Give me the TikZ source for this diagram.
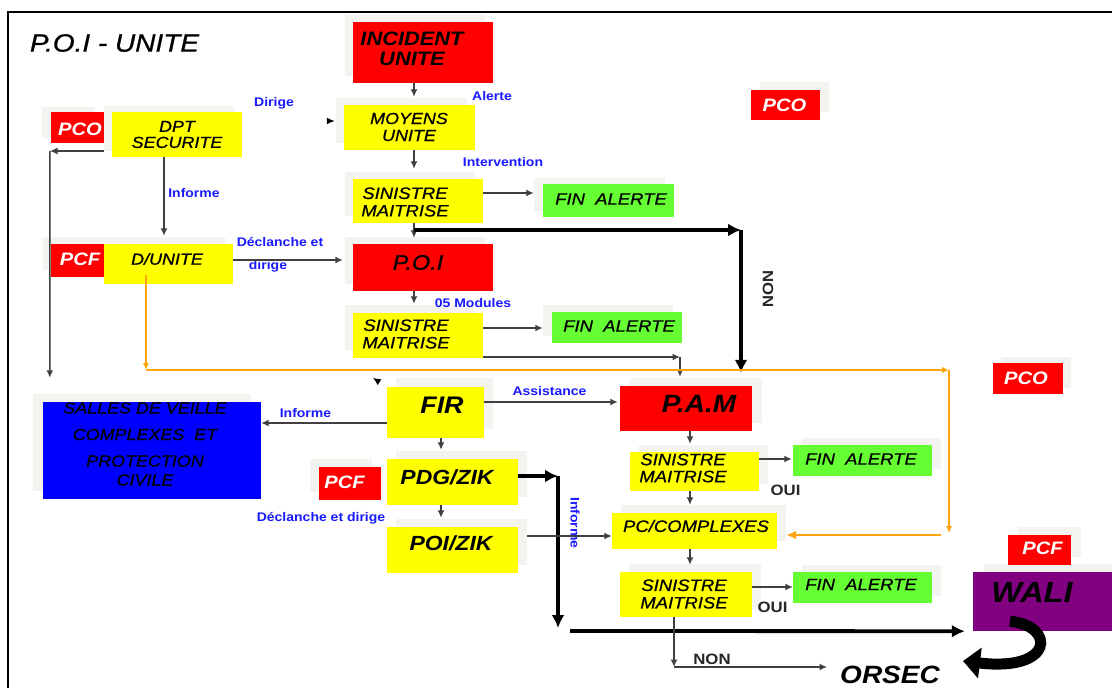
\documentclass[tikz,border=0pt]{standalone}
\usepackage{fontspec}
\setmainfont{Liberation Sans}[FakeStretch=1.12, ItalicFeatures={FakeBold=0.8}]
\usetikzlibrary{arrows.meta,backgrounds,calc}

\definecolor{boxred}{RGB}{255,0,0}
\definecolor{boxyellow}{RGB}{255,255,0}
\definecolor{boxgreen}{RGB}{102,255,51}
\definecolor{boxblue}{RGB}{0,0,255}
\definecolor{boxpurple}{RGB}{128,0,128}
\definecolor{labelblue}{RGB}{25,25,255}
\definecolor{wiregray}{RGB}{64,64,64}
\definecolor{wireorange}{RGB}{255,165,20}
\definecolor{platecol}{RGB}{244,243,239}

% font helpers: size, baselineskip
\newcommand\itf[2]{\fontsize{#1}{#2}\selectfont\itshape}
\newcommand\bif[2]{\fontsize{#1}{#2}\selectfont\bfseries\itshape}
% light plate behind a box, offset by (dx,dy)
\newcommand\backplate[3]{\fill[platecol] ([xshift=#2pt,yshift=#3pt]#1.south west) rectangle ([xshift=#2pt,yshift=#3pt]#1.north east);}

\tikzset{
  box/.style={rectangle, inner sep=0pt},
  ybox/.style={box, fill=boxyellow},
  rbox/.style={box, fill=boxred},
  gbox/.style={box, fill=boxgreen},
  txt/.style={inner sep=0pt, align=center, text=black},
  tag/.style={inner sep=0pt, align=center, text=white, font=\bif{18}{18}},
  lbl/.style={inner sep=0pt, align=center, text=labelblue, font=\fontsize{12.5}{13}\selectfont\bfseries},
  blk/.style={inner sep=0pt, text=black!85, font=\fontsize{15}{15}\selectfont\bfseries},
  wire/.style={draw=wiregray, line width=1.5pt, -{Latex[length=7.5pt,width=7pt]}},
  ghost/.style={draw=white, line width=1.3pt, -{Latex[length=8pt,width=7pt,color=black]}},
  heavy/.style={draw=black, line width=3.8pt, -{Latex[length=13pt,width=13pt]}},
  owire/.style={draw=wireorange, line width=1.4pt, -{Latex[length=7pt,width=6.5pt]}},
}

\begin{document}
\begin{tikzpicture}[x=1pt,y=-1pt]
\useasboundingbox (0,0) rectangle (1112,688);

% ---- title
\node[txt, font=\itf{25}{25}] (title) at (114.5,43) {P.O.I - UNITE};

% ---- boxes
\node[rbox, minimum width=140pt, minimum height=61pt] (incident) at (423,52.5) {};
\node[ybox, minimum width=131pt, minimum height=45pt] (moyens) at (409.5,127.5) {};
\node[rbox, minimum width=53pt, minimum height=31pt] (pco1) at (77.5,127.5) {};
\node[ybox, minimum width=130pt, minimum height=45pt] (dpt) at (177,134.5) {};
\node[ybox, minimum width=130pt, minimum height=44pt] (sin1) at (418,201) {};
\node[gbox, minimum width=131pt, minimum height=33pt] (fin1) at (608.5,200.5) {};
\node[rbox, minimum width=69pt, minimum height=30pt] (pco2) at (785.5,105) {};
\node[rbox, minimum width=53pt, minimum height=33pt] (pcf1) at (77.5,260.5) {};
\node[ybox, minimum width=129pt, minimum height=40pt] (dunite) at (168.5,264) {};
\node[rbox, minimum width=140pt, minimum height=47pt] (poi) at (423,267.5) {};
\node[ybox, minimum width=130pt, minimum height=45pt] (sin2) at (418,335.5) {};
\node[gbox, minimum width=130pt, minimum height=31pt] (fin2) at (617,327.5) {};
\node[rbox, minimum width=70pt, minimum height=31pt] (pco3) at (1028,378.5) {};
\node[box, fill=boxblue, minimum width=218pt, minimum height=97pt] (salles) at (152,450.5) {};
\node[ybox, minimum width=97pt, minimum height=51pt] (fir) at (435.5,412.5) {};
\node[rbox, minimum width=132pt, minimum height=45pt] (pam) at (686,408.5) {};
\node[rbox, minimum width=62pt, minimum height=33pt] (pcf2) at (350,483.5) {};
\node[ybox, minimum width=131pt, minimum height=46pt] (pdg) at (452.5,482) {};
\node[ybox, minimum width=131pt, minimum height=46pt] (poizik) at (452.5,550) {};
\node[ybox, minimum width=129pt, minimum height=39pt] (sin3) at (694.5,471.5) {};
\node[gbox, minimum width=139pt, minimum height=31pt] (fin3) at (862.5,460.5) {};
\node[ybox, minimum width=165pt, minimum height=36pt] (pc) at (694.5,531) {};
\node[ybox, minimum width=132pt, minimum height=45pt] (sin4) at (686,594.5) {};
\node[gbox, minimum width=139pt, minimum height=31pt] (fin4) at (862.5,587.5) {};
\node[rbox, minimum width=63pt, minimum height=30pt] (pcf3) at (1039.5,550) {};
\node[box, fill=boxpurple, minimum width=139pt, minimum height=59pt] (wali) at (1042.5,601.5) {};

% ---- white page and light plates behind the boxes
\begin{pgfonlayer}{background}
  \fill[white] (0,0) rectangle (1112,688);
  \backplate{incident}{-8}{7}
  \backplate{moyens}{-8}{7}
  \backplate{pco1}{-9}{5}
  \backplate{dpt}{-8}{6}
  \backplate{sin1}{-8}{7}
  \backplate{fin1}{-9}{6}
  \backplate{pco2}{9}{8}
  \backplate{pcf1}{-8}{7}
  \backplate{dunite}{-8}{7}
  \backplate{poi}{-8}{7}
  \backplate{sin2}{-8}{8}
  \backplate{fin2}{-9}{7}
  \backplate{pco3}{8}{6}
  \backplate{salles}{-10}{8}
  \backplate{fir}{9}{9}
  \backplate{pam}{10}{8}
  \backplate{pcf2}{-9}{8}
  \backplate{pdg}{9}{8}
  \backplate{poizik}{9}{8}
  \backplate{sin3}{9}{7}
  \backplate{fin3}{9}{7}
  \backplate{pc}{9}{8}
  \backplate{sin4}{9}{8}
  \backplate{fin4}{9}{7}
  \backplate{pcf3}{10}{8}
  \backplate{wali}{11}{8}
\end{pgfonlayer}

% ---- box texts
\node[txt, font=\bif{19.5}{20}] (incident-t) at (412,48.5) {INCIDENT\\UNITE};
\node[txt, font=\itf{16}{17}] (moyens-t) at (409,127) {MOYENS\\UNITE};
\node[tag] (pco1-t) at (80,129) {PCO};
\node[txt, font=\itf{16}{16}] (dpt-t) at (177,134.5) {DPT\\SECURITE};
\node[txt, font=\itf{16.5}{17.5}] (sin1-t) at (405,202) {SINISTRE\\MAITRISE};
\node[txt, font=\itf{16.5}{16.5}] (fin1-t) at (611,199) {FIN\ \ ALERTE};
\node[tag] (pco2-t) at (784.5,105) {PCO};
\node[tag] (pcf1-t) at (80,259.5) {PCF};
\node[txt, font=\itf{16}{16}] (dunite-t) at (167,259) {D/UNITE};
\node[txt, font=\itf{21}{21}] (poi-t) at (418,262.5) {P.O.I};
\node[txt, font=\itf{16.5}{17.5}] (sin2-t) at (406,334) {SINISTRE\\MAITRISE};
\node[txt, font=\itf{16.5}{16.5}] (fin2-t) at (619,326) {FIN\ \ ALERTE};
\node[tag] (pco3-t) at (1026,378.5) {PCO};
\node[txt, font=\itf{16}{26.5}] (salles-t) at (145,444) {SALLES DE VEILLE\\COMPLEXES\ \ ET\\PROTECTION\\[-7.5pt]CIVILE};
\node[txt, font=\bif{24}{24}] (fir-t) at (442,405) {FIR};
\node[txt, font=\bif{25}{25}] (pam-t) at (699,404) {P.A.M};
\node[tag] (pcf2-t) at (344.5,482) {PCF};
\node[txt, font=\bif{20.5}{20.5}] (pdg-t) at (447,477) {PDG/ZIK};
\node[txt, font=\bif{20.5}{20.5}] (poizik-t) at (451,543.5) {POI/ZIK};
\node[txt, font=\itf{16.5}{17}] (sin3-t) at (683,468) {SINISTRE\\MAITRISE};
\node[txt, font=\itf{16.5}{16.5}] (fin3-t) at (861,459) {FIN\ \ ALERTE};
\node[txt, font=\itf{16.5}{17}] (pc-t) at (696,526) {PC/COMPLEXES};
\node[txt, font=\itf{16.5}{17.5}] (sin4-t) at (684,594) {SINISTRE\\MAITRISE};
\node[txt, font=\itf{16.5}{16.5}] (fin4-t) at (861,584.5) {FIN\ \ ALERTE};
\node[tag] (pcf3-t) at (1042.5,548.5) {PCF};
\node[txt, font=\bif{29}{29}] (wali-t) at (1032,592.5) {WALI};
\node[txt, font=\bif{25}{25}] (orsec) at (890,675) {ORSEC};

% ---- blue labels
\node[lbl] (l-dirige) at (274,103) {Dirige};
\node[lbl] (l-alerte) at (492,96) {Alerte};
\node[lbl] (l-interv) at (503,162) {Intervention};
\node[lbl] (l-informe1) at (194,193) {Informe};
\node[lbl] (l-declanche1) at (280,242) {Déclanche et};
\node[lbl] (l-dirige2) at (268,266.5) {dirige};
\node[lbl] (l-modules) at (473,303) {05 Modules};
\node[lbl] (l-assist) at (549.5,391.5) {Assistance};
\node[lbl] (l-informe2) at (305.5,413.5) {Informe};
\node[lbl] (l-declanche2) at (321,518) {Déclanche et dirige};
\node[lbl, rotate=-90] (l-informe3) at (575,523) {Informe};

% ---- black labels
\node[blk, rotate=-90] (l-non1) at (768,289) {NON};
\node[blk] (l-non2) at (712,659) {NON};
\node[blk] (l-oui1) at (785.5,490.5) {OUI};
\node[blk] (l-oui2) at (772.5,607.5) {OUI};

% ---- junction points
\coordinate (k1) at (50,151);
\coordinate (j1) at (414,230);
\coordinate (j2) at (741,230);
\coordinate (j3) at (680,357);
\coordinate (o1) at (146,370);
\coordinate (o2) at (949,370);
\coordinate (o3) at (949,533);
\coordinate (j4) at (558,476);
\coordinate (j5) at (558,628);
\coordinate (j6) at (570,631);
\coordinate (j7) at (674,667);
\coordinate (uturn-end) at (963,661);

% ---- connectors
\draw[wire] ([xshift=-9pt]incident.south) -- ([xshift=4.5pt,yshift=8pt]moyens.north);
\draw[wire] ([xshift=4.5pt]moyens.south) -- ([xshift=-4pt,yshift=10pt]sin1.north);
\draw[wire] ([yshift=8pt]sin1.east) -- ([xshift=-9pt,yshift=7.5pt]fin1.west);
\draw[ghost] ([yshift=13.5pt]dpt.east) -- ([xshift=-9pt,yshift=6.5pt]moyens.west);
\draw[wire] ([xshift=-8pt,yshift=-16.5pt]dpt.west) -- (k1);
\draw[wire] (k1) -- ([xshift=7pt,yshift=24pt]salles.north west);
\draw[wire] ([xshift=-13pt]dpt.south) -- ([xshift=-4.5pt,yshift=8pt]dunite.north);
\draw[wire] ([xshift=-4pt]sin1.south) -- ([xshift=-9pt,yshift=6pt]poi.north);
\draw[heavy] (j1) -- (j2);
\draw[heavy] (j2) -- ([xshift=55pt,yshift=13pt]pam.north);
\draw[wire] ([yshift=4pt]dunite.east) -- ([xshift=-10pt,yshift=7.5pt]poi.west);
\draw[wire] ([xshift=-9pt]poi.south) -- ([xshift=-4pt,yshift=9pt]sin2.north);
\draw[wire] ([yshift=7.5pt]sin2.east) -- ([xshift=-9pt,yshift=-0.5pt]fin2.west);
\draw[wire] ([yshift=-21.5pt]sin2.east) -- (j3);
\draw[wire] (j3) -- ([xshift=-6pt,yshift=9pt]pam.north);

\draw[owire] ([xshift=-22.5pt,yshift=9pt]dunite.south) -- (o1);
\draw[owire] (o1) -- (o2);
\draw[owire] (o2) -- (o3);
\draw[owire, line width=2.4pt, -{Latex[length=10pt,width=9pt]}] ([xshift=-8pt,yshift=-2pt]o3) -- ([xshift=9pt,yshift=-4pt]pc.east);

\draw[ghost] (fir.north west) -- ++(-14,-9);
\draw[wire] ([yshift=-10.5pt]fir.west) -- ([yshift=27.5pt]salles.east);
\draw[wire] ([yshift=10.5pt]fir.east) -- ([xshift=-2pt,yshift=6.5pt]pam.west);
\draw[wire] ([xshift=5.5pt]fir.south) -- ([xshift=-11.5pt,yshift=9pt]pdg.north);
\draw[wire] ([xshift=-11.5pt]pdg.south) -- ([xshift=-11.5pt,yshift=9pt]poizik.north);
\draw[heavy] ([yshift=6pt]pdg.east) -- (j4);
\draw[heavy] (j4) -- (j5);
\draw[heavy] (j6) -- ([xshift=-8pt]wali.south west);
\draw[wire] ([xshift=9pt,yshift=14pt]poizik.east) -- ([yshift=-5pt]pc.west);

\draw[wire] ([xshift=4pt]pam.south) -- ([xshift=-4.5pt,yshift=8pt]sin3.north);
\draw[wire] ([yshift=12.5pt]sin3.east) -- ([xshift=-1pt,yshift=1.5pt]fin3.west);
\draw[wire] ([xshift=-4.5pt]sin3.south) -- ([xshift=-4.5pt,yshift=8pt]pc.north);
\draw[wire] ([xshift=-4.5pt]pc.south) -- ([xshift=4pt,yshift=7pt]sin4.north);
\draw[wire] ([yshift=7.5pt]sin4.east) -- ([yshift=0.5pt]fin4.west);
\draw[wire] ([xshift=-12pt]sin4.south) -- (j7);
\draw[wire] (j7) -- ([xshift=-13pt,yshift=8pt]orsec.west);

% U-turn arrow below WALI
\draw[line width=11pt, -{Triangle[length=17pt,width=30pt]}] ([xshift=-32.5pt,yshift=10pt]wali.south) .. controls (1056,626) and (1054,672) .. (uturn-end);

% ---- frame
\draw[line width=2pt] (8,688) -- (8,12) -- (1112,12);
\end{tikzpicture}
\end{document}
